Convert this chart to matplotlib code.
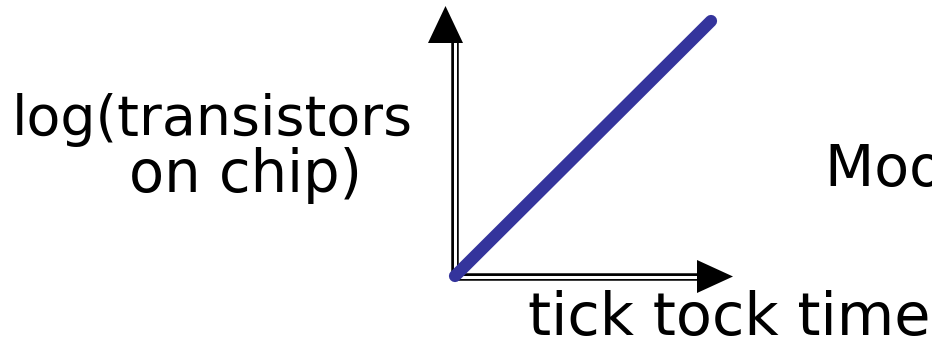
import matplotlib
matplotlib.use("Agg")
import matplotlib.pyplot as plt
from matplotlib.patches import Polygon

# data: a straight line on a log scale over time
time = [0.0, 1.0]
log_transistors = [0.0, 1.0]

ylabel_lines = ["log(transistors", "on chip)"]
xlabel = "tick tock time"
side_label = "Moore's law"

W, H = 932, 337
BLUE = "#34349c"
FS = 41

fig = plt.figure(figsize=(W / 100, H / 100), dpi=100)
fig.patch.set_facecolor("white")

# axes whose corner sits at the origin of the drawn arrows
x0, y0 = 455, 276
x1, y1 = 711, 21
ax = fig.add_axes([x0 / W, 1 - y0 / H, (x1 - x0) / W, (y0 - y1) / H])
ax.set_xlim(0, 1)
ax.set_ylim(0, 1)
ax.axis("off")


def px(x, y):
    # pixel position -> axes fraction
    return (x - x0) / (x1 - x0), (y0 - y) / (y0 - y1)


def double_stem(p, q):
    (xa, ya), (xb, yb) = px(*p), px(*q)
    ax.plot([xa, xb], [ya, yb], color="black", lw=5.4, solid_capstyle="butt",
            transform=ax.transAxes, clip_on=False, zorder=2)
    ax.plot([xa, xb], [ya, yb], color="white", lw=2.2, solid_capstyle="butt",
            transform=ax.transAxes, clip_on=False, zorder=3)


# vertical axis
double_stem((455, 278), (455, 40))
ax.add_patch(Polygon([px(428, 43), px(463, 43), px(445.5, 6)], closed=True,
                     facecolor="black", edgecolor="none",
                     transform=ax.transAxes, clip_on=False, zorder=4))
# horizontal axis
double_stem((452, 276.5), (700, 276.5))
ax.add_patch(Polygon([px(697, 260), px(697, 293), px(733, 276.5)], closed=True,
                     facecolor="black", edgecolor="none",
                     transform=ax.transAxes, clip_on=False, zorder=4))

ax.plot(time, log_transistors, color=BLUE, lw=8.8, solid_capstyle="round",
        clip_on=False, zorder=5)

fig.text(12 / W, 1 - 135 / H, ylabel_lines[0], fontsize=FS - 1, va="baseline")
fig.text(129 / W, 1 - 192 / H, ylabel_lines[1], fontsize=FS + 0.5, va="baseline")
fig.text(528 / W, 1 - 335 / H, xlabel, fontsize=FS + 1.5, va="baseline")
fig.text(825 / W, 1 - 186 / H, side_label, fontsize=FS, va="baseline")

fig.savefig("out.png", dpi=100, facecolor="white")
